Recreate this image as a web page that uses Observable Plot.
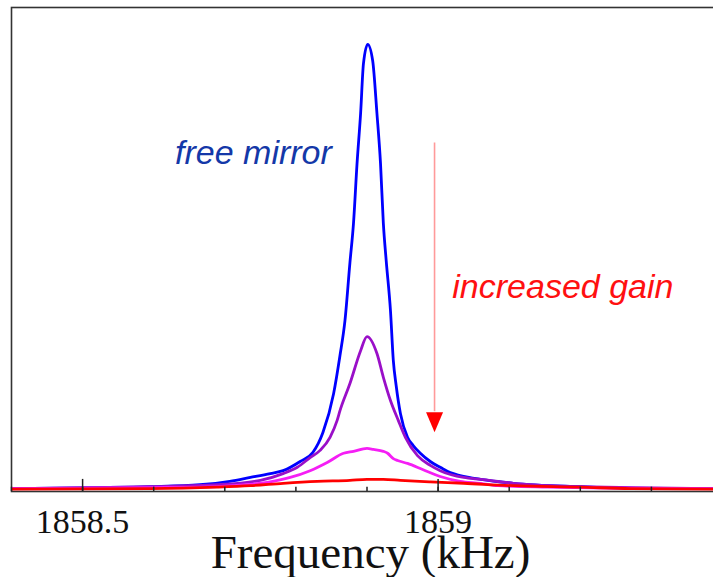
<!DOCTYPE html>
<html>
<head>
<meta charset="utf-8">
<script src="https://cdn.jsdelivr.net/npm/d3@7"></script>
<script src="https://cdn.jsdelivr.net/npm/@observablehq/plot@0.6"></script>
<style>
  html, body { margin: 0; padding: 0; background: #fff; overflow: hidden; }
  #chart { width: 713px; height: 577px; overflow: hidden; }
  #chart svg { max-width: none !important; }
</style>
</head>
<body>
<div id="chart"></div>
<script>
// ---- data (frequency in kHz, amplitude in arbitrary units) ----
const blueFreq = [1858.40, 1858.524, 1858.595, 1858.665, 1858.707, 1858.736, 1858.764, 1858.782, 1858.806, 1858.824, 1858.838, 1858.853, 1858.862, 1858.869, 1858.876, 1858.881, 1858.886, 1858.891, 1858.895, 1858.901, 1858.908, 1858.914, 1858.919, 1858.923, 1858.927, 1858.933, 1858.937, 1858.941, 1858.947, 1858.957, 1858.965, 1858.975, 1858.989, 1859.003, 1859.017, 1859.031, 1859.060, 1859.106, 1859.200, 1859.299, 1859.40];
const blueAmp  = [0.006, 0.008, 0.010, 0.014, 0.021, 0.029, 0.037, 0.043, 0.062, 0.081, 0.122, 0.202, 0.281, 0.353, 0.473, 0.554, 0.678, 0.781, 0.884, 0.924, 0.890, 0.781, 0.678, 0.554, 0.477, 0.374, 0.271, 0.219, 0.161, 0.112, 0.095, 0.079, 0.062, 0.050, 0.039, 0.033, 0.025, 0.017, 0.010, 0.006, 0.006];

const purpleFreq = [1858.40, 1858.595, 1858.689, 1858.750, 1858.782, 1858.802, 1858.820, 1858.834, 1858.848, 1858.858, 1858.862, 1858.876, 1858.891, 1858.900, 1858.914, 1858.923, 1858.933, 1858.944, 1858.954, 1858.971, 1858.989, 1859.003, 1859.036, 1859.060, 1859.106, 1859.200, 1859.40];
const purpleAmp  = [0.006, 0.010, 0.014, 0.023, 0.037, 0.050, 0.070, 0.085, 0.112, 0.147, 0.167, 0.223, 0.291, 0.320, 0.285, 0.236, 0.188, 0.147, 0.112, 0.074, 0.054, 0.043, 0.029, 0.025, 0.017, 0.010, 0.006];

const magentaFreq = [1858.40, 1858.595, 1858.665, 1858.712, 1858.760, 1858.792, 1858.820, 1858.844, 1858.867, 1858.881, 1858.900, 1858.909, 1858.923, 1858.929, 1858.937, 1858.943, 1858.957, 1858.979, 1859.003, 1859.031, 1859.060, 1859.084, 1859.154, 1859.257, 1859.40];
const magentaAmp  = [0.006, 0.008, 0.009, 0.012, 0.019, 0.029, 0.043, 0.060, 0.079, 0.083, 0.089, 0.087, 0.083, 0.079, 0.068, 0.064, 0.058, 0.045, 0.031, 0.021, 0.017, 0.012, 0.009, 0.007, 0.006];

const redFreq = [1858.40, 1858.595, 1858.689, 1858.736, 1858.782, 1858.830, 1858.876, 1858.900, 1858.923, 1858.947, 1858.989, 1859.036, 1859.106, 1859.200, 1859.271, 1859.40];
const redAmp  = [0.005, 0.006, 0.009, 0.012, 0.017, 0.021, 0.023, 0.025, 0.025, 0.023, 0.020, 0.017, 0.012, 0.009, 0.006, 0.005];

const seriesNames  = ["free", "gain1", "gain2", "gain3"];
const seriesColors = ["#0000ff", "#9a0fc8", "#f51ef5", "#ff0000"];

const minorTicks = [1858.4, 1858.5, 1858.6, 1858.7, 1858.8, 1858.9, 1859.0, 1859.1, 1859.2, 1859.3];
const majorTicks = [1858.5, 1859.0];
const majorLabels = ["1858.5", "1859"];

const xLabel = "Frequency (kHz)";
const annotFree = {text: "free mirror", f: 1858.630, a: 0.700};
const annotGain = {text: "increased gain", f: 1859.020, a: 0.422};
const arrowF = 1858.995, arrowTop = 0.720, arrowEnd = 0.165, arrowHead = 0.143;

// ---- build rows ----
const allFreq = [blueFreq, purpleFreq, magentaFreq, redFreq];
const allAmp  = [blueAmp, purpleAmp, magentaAmp, redAmp];
const rows = [];
seriesNames.forEach((s, i) => allFreq[i].forEach((f, j) => rows.push({series: s, f, a: allAmp[i][j]})));

const downTriangle = {
  draw(context) {
    context.moveTo(-8.5, -10);
    context.lineTo(8.5, -10);
    context.lineTo(0, 10);
    context.closePath();
  }
};

const serif = "'Liberation Serif', 'DejaVu Serif', serif";
const sans = "'Liberation Sans', Arial, sans-serif";

const chart = Plot.plot({
  width: 722,
  height: 577,
  marginLeft: 11,
  marginRight: 0,
  marginTop: 7,
  marginBottom: 86,
  x: {domain: [1858.4, 1859.4], axis: null},
  y: {domain: [0, 1], axis: null},
  color: {domain: seriesNames, range: seriesColors},
  style: {background: "white", overflow: "hidden", maxWidth: "none"},
  marks: [
    Plot.frame({stroke: "#333", strokeWidth: 1.6}),
    Plot.line(rows, {x: "f", y: "a", z: "series", stroke: "series", strokeWidth: 2.8, curve: "monotone-x", clip: true}),
    Plot.ruleX(minorTicks, {x: d => d, y1: 0, y2: 0.009, stroke: "#222", strokeWidth: 1.5}),
    Plot.ruleX(majorTicks, {x: d => d, y1: 0, y2: 0.025, stroke: "#222", strokeWidth: 1.5}),
    Plot.text(majorTicks, {x: d => d, text: (d, i) => majorLabels[i], frameAnchor: "bottom", lineAnchor: "middle", dy: 31, fontSize: 34, fontFamily: serif, fill: "#111"}),
    Plot.text([xLabel], {text: d => d, frameAnchor: "bottom", lineAnchor: "middle", dx: 3.5, dy: 61, fontSize: 47, fontFamily: serif, fill: "#111"}),
    Plot.text([annotFree], {x: "f", y: "a", text: "text", textAnchor: "start", lineAnchor: "middle", fontSize: 34, fontStyle: "italic", fontFamily: sans, fill: "#1438a8"}),
    Plot.text([annotGain], {x: "f", y: "a", text: "text", textAnchor: "start", lineAnchor: "middle", fontSize: 34, fontStyle: "italic", fontFamily: sans, fill: "#ff1010"}),
    Plot.ruleX([arrowF], {x: d => d, y1: arrowTop, y2: arrowEnd, stroke: "#ff9a9a", strokeWidth: 1.6}),
    Plot.dot([arrowF], {x: d => d, y: arrowHead, symbol: downTriangle, fill: "#ff0000", stroke: "none"})
  ]
});
document.getElementById("chart").appendChild(chart);
</script>
</body>
</html>
